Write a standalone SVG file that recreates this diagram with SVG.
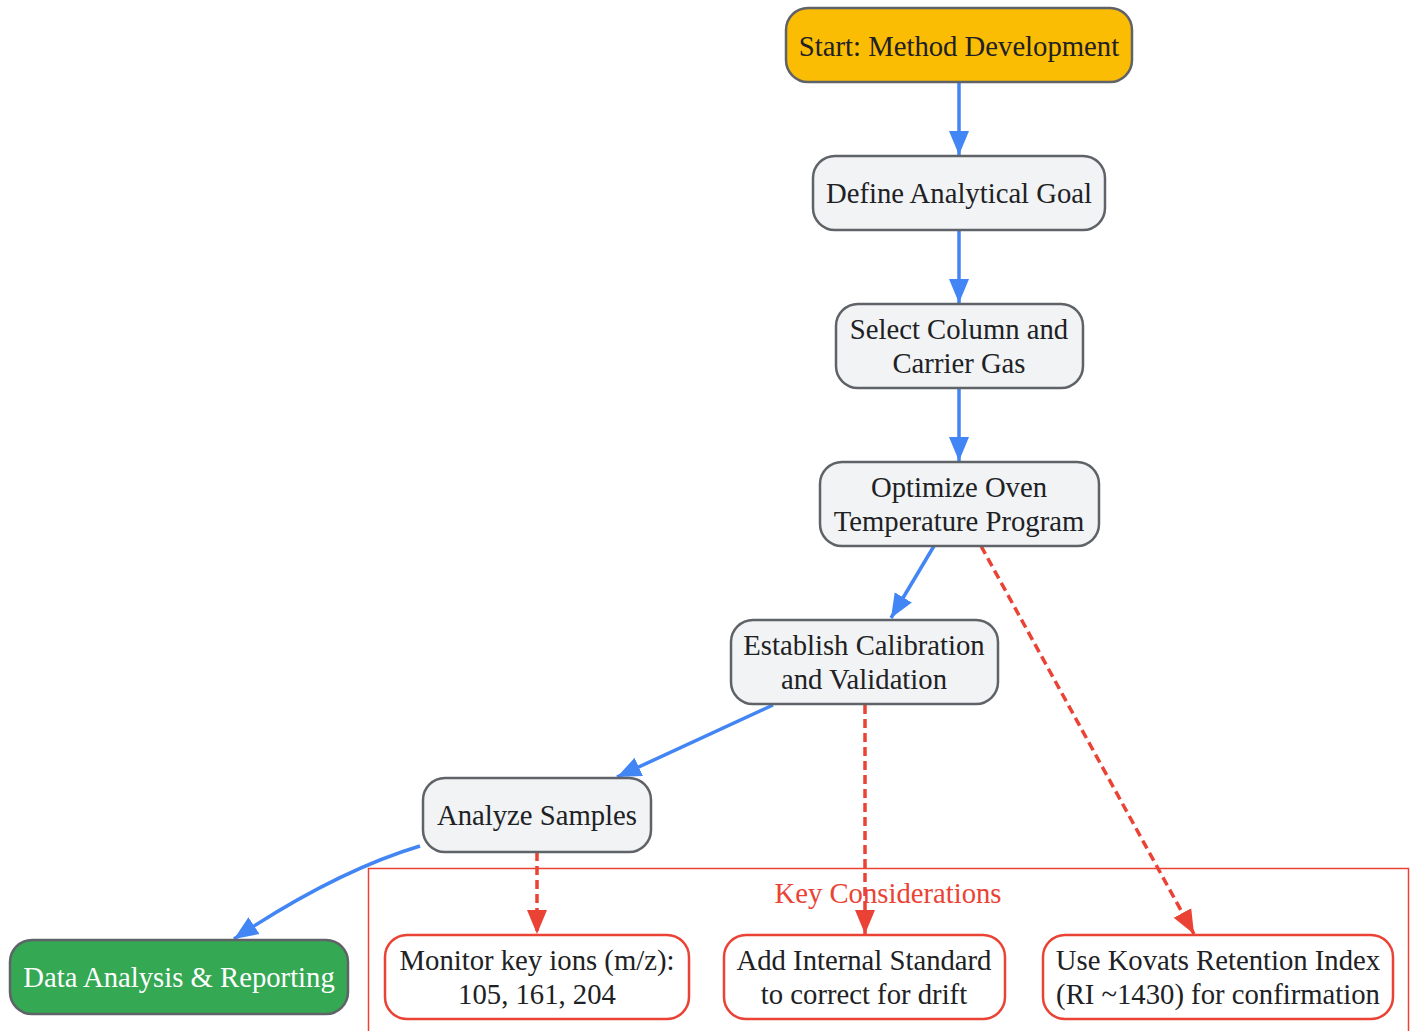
<svg xmlns="http://www.w3.org/2000/svg" width="1415" height="1031" viewBox="0 0 1415 1031">
<style>
text{font-family:"Liberation Serif","Times New Roman",serif;font-size:28.7px;fill:#202124;text-anchor:middle;dominant-baseline:central}
.n rect{fill:#F1F3F4;stroke:#5F6368;stroke-width:2.5}
.k rect{fill:#FFFFFF;stroke:#EA4335;stroke-width:2.5}
.b{fill:none;stroke:#4285F4;stroke-width:3.5}
.r{fill:none;stroke:#EA4335;stroke-width:3.5;stroke-dasharray:9,5}
</style>
<defs>
<marker id="ab" markerUnits="userSpaceOnUse" markerWidth="26" markerHeight="22" refX="24" refY="11" orient="auto"><path d="M0,1 L24,11 L0,21 z" fill="#4285F4"/></marker>
<marker id="ar" markerUnits="userSpaceOnUse" markerWidth="26" markerHeight="22" refX="24" refY="11" orient="auto"><path d="M0,1 L24,11 L0,21 z" fill="#EA4335"/></marker>
</defs>
<rect width="1415" height="1031" fill="#FFFFFF"/>
<g id="cluster">
<rect x="368.5" y="868.5" width="1040" height="180" fill="none" stroke="#EA4335" stroke-width="1.5"/>
<text x="888" y="893" style="fill:#EA4335">Key Considerations</text>
</g>
<g id="connectors">
<path class="b" d="M959,82 L959,155" marker-end="url(#ab)"/>
<path class="b" d="M959,230 L959,303" marker-end="url(#ab)"/>
<path class="b" d="M959,388 L959,461" marker-end="url(#ab)"/>
<path class="b" d="M934,546 L891,618" marker-end="url(#ab)"/>
<path class="b" d="M773,705 L617,777" marker-end="url(#ab)"/>
<path class="b" d="M420,846 C360,864 300,895 234,939" marker-end="url(#ab)"/>
<path class="r" d="M537,852 L537,934" marker-end="url(#ar)"/>
<path class="r" d="M865,705 L865,934" marker-end="url(#ar)"/>
<path class="r" d="M981,546 L1194,934" marker-end="url(#ar)"/>
</g>
<g id="start"><rect x="786" y="8" width="346" height="74" rx="22" fill="#FBBC04" stroke="#5F6368" stroke-width="2.5"/><text x="959" y="46">Start: Method Development</text></g>
<g id="define" class="n"><rect x="813" y="156" width="292" height="74" rx="22"/><text x="959" y="193">Define Analytical Goal</text></g>
<g id="select" class="n"><rect x="836" y="304" width="247" height="84" rx="22"/><text x="959" y="329">Select Column and</text><text x="959" y="363">Carrier Gas</text></g>
<g id="optimize" class="n"><rect x="820" y="462" width="279" height="84" rx="22"/><text x="959" y="487">Optimize Oven</text><text x="959" y="521">Temperature Program</text></g>
<g id="establish" class="n"><rect x="731" y="620" width="267" height="84" rx="22"/><text x="864" y="645">Establish Calibration</text><text x="864" y="679">and Validation</text></g>
<g id="analyze" class="n"><rect x="423" y="778" width="228" height="74" rx="22"/><text x="537" y="815">Analyze Samples</text></g>
<g id="report"><rect x="10" y="940" width="338" height="74" rx="22" fill="#34A853" stroke="#5F6368" stroke-width="2.5"/><text x="179" y="977" style="fill:#FFFFFF">Data Analysis &amp; Reporting</text></g>
<g id="monitor" class="k"><rect x="385" y="935" width="304" height="84" rx="22"/><text x="537" y="960">Monitor key ions (m/z):</text><text x="537" y="994">105, 161, 204</text></g>
<g id="internal" class="k"><rect x="724" y="935" width="281" height="84" rx="22"/><text x="864" y="960">Add Internal Standard</text><text x="864" y="994">to correct for drift</text></g>
<g id="kovats" class="k"><rect x="1043" y="935" width="350" height="84" rx="22"/><text x="1218" y="960">Use Kovats Retention Index</text><text x="1218" y="994">(RI ~1430) for confirmation</text></g>
</svg>
